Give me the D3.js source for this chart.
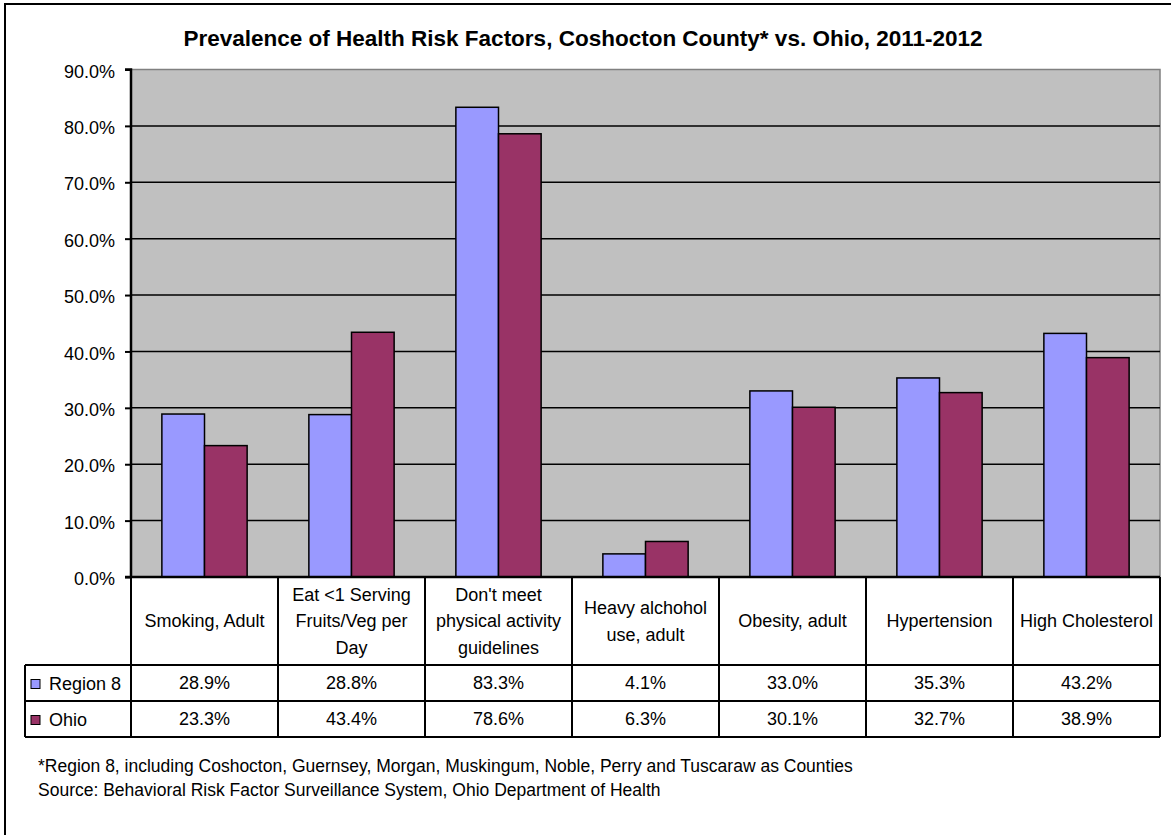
<!DOCTYPE html>
<html>
<head>
<meta charset="utf-8">
<script src="https://cdn.jsdelivr.net/npm/d3@7"></script>
<style>
  body { margin: 0; background: #fff; }
  svg { display: block; font-family: "Liberation Sans", Arial, sans-serif; }
</style>
</head>
<body>
<div id="chart"></div>
<script>
// Data
const categories = [
    ["Smoking, Adult"],
    ["Eat <1 Serving", "Fruits/Veg per", "Day"],
    ["Don't meet", "physical activity", "guidelines"],
    ["Heavy alchohol", "use, adult"],
    ["Obesity, adult"],
    ["Hypertension"],
    ["High Cholesterol"]
];
const seriesNames = ["Region 8", "Ohio"];
const region8 = [0.289, 0.288, 0.833, 0.041, 0.330, 0.353, 0.432];
const ohio = [0.233, 0.434, 0.786, 0.063, 0.301, 0.327, 0.389];
const yTicks = [0, 0.1, 0.2, 0.3, 0.4, 0.5, 0.6, 0.7, 0.8, 0.9];
const colors = ["#9999ff", "#993366"];
const footnotes = [
    "*Region 8, including Coshocton, Guernsey, Morgan, Muskingum, Noble, Perry and Tuscaraw as Counties",
    "Source: Behavioral Risk Factor Surveillance System, Ohio Department of Health"
];

function createChart() {
    const width = 1171, height = 835;
    const plot = { left: 131, right: 1160, top: 69.5, bottom: 577 };
    const headerH = 88, rowH = 36;
    const legendLeft = 25;
    const fs = "18px";

    const svg = d3.select("#chart").append("svg")
        .attr("width", width)
        .attr("height", height);

    // outer chart border (cropped on the right/bottom in the reference)
    svg.append("rect")
        .attr("x", 5).attr("y", 4)
        .attr("width", 1175).attr("height", 850)
        .attr("fill", "#fff")
        .attr("stroke", "#000")
        .attr("stroke-width", 2);

    const series = seriesNames.map((name, i) => ({
        name: name,
        values: i === 0 ? region8 : ohio
    }));
    const catIdx = d3.range(categories.length);

    const x = d3.scaleBand()
        .domain(catIdx)
        .range([plot.left, plot.right])
        .padding(0);
    const bw = x.bandwidth();
    const xSub = d3.scaleBand()
        .domain(seriesNames)
        .range([bw * 0.21, bw * 0.79])
        .padding(0);
    const y = d3.scaleLinear()
        .domain([0, 0.9])
        .range([plot.bottom, plot.top]);

    // plot background
    svg.append("rect")
        .attr("x", plot.left).attr("y", plot.top)
        .attr("width", plot.right - plot.left)
        .attr("height", plot.bottom - plot.top)
        .attr("fill", "#c0c0c0")
        .attr("stroke", "#808080")
        .attr("stroke-width", 1.5);

    // gridlines
    svg.append("g")
        .selectAll("line")
        .data(yTicks.filter(t => t > 0 && t < 0.9))
        .enter().append("line")
        .attr("x1", plot.left).attr("x2", plot.right)
        .attr("y1", d => y(d)).attr("y2", d => y(d))
        .attr("stroke", "#000")
        .attr("stroke-width", 1.5);

    // bars
    const groups = svg.append("g")
        .selectAll("g")
        .data(series)
        .enter().append("g")
        .attr("fill", (d, i) => colors[i]);

    groups.selectAll("rect")
        .data(d => d.values.map((v, i) => ({ name: d.name, value: v, idx: i })))
        .enter().append("rect")
        .attr("x", d => x(d.idx) + xSub(d.name))
        .attr("y", d => y(d.value))
        .attr("width", xSub.bandwidth())
        .attr("height", d => y(0) - y(d.value))
        .attr("stroke", "#000")
        .attr("stroke-width", 1.5);

    // y axis
    const yAxis = d3.axisLeft(y)
        .tickValues(yTicks)
        .tickFormat(d3.format(".1%"))
        .tickSize(6)
        .tickPadding(10);
    const ax = svg.append("g")
        .attr("transform", `translate(${plot.left},0)`)
        .call(yAxis);
    ax.select(".domain").attr("stroke-width", 2.5).attr("d", `M-6,${plot.top}H0V${plot.bottom}`);
    ax.selectAll(".tick line").attr("stroke-width", 2);
    ax.selectAll(".tick text")
        .attr("dy", "0.42em")
        .style("font-size", fs)
        .style("fill", "#000");

    // data table
    const table = svg.append("g").attr("stroke", "#000").attr("stroke-width", 2);
    const tTop = plot.bottom, hBot = plot.bottom + headerH, tBot = hBot + rowH * 2;

    // horizontal lines
    table.append("line").attr("x1", plot.left - 6).attr("x2", plot.right).attr("y1", tTop).attr("y2", tTop).attr("stroke-width", 2.5);
    [hBot, hBot + rowH, tBot].forEach(yy => {
        table.append("line").attr("x1", legendLeft).attr("x2", plot.right).attr("y1", yy).attr("y2", yy);
    });
    // vertical lines
    catIdx.concat([categories.length]).forEach(i => {
        const xx = i < categories.length ? x(i) : plot.right;
        table.append("line").attr("x1", xx).attr("x2", xx).attr("y1", tTop).attr("y2", tBot);
    });
    table.append("line").attr("x1", legendLeft).attr("x2", legendLeft).attr("y1", hBot).attr("y2", tBot);

    // header labels
    const lineH = 26.5;
    const headers = svg.append("g")
        .selectAll("text")
        .data(categories)
        .enter().append("text")
        .attr("text-anchor", "middle")
        .style("font-size", fs)
        .attr("x", (d, i) => x(i) + bw / 2)
        .attr("y", d => (tTop + hBot) / 2 - (d.length - 1) * lineH / 2);
    headers.selectAll("tspan")
        .data(d => d)
        .enter().append("tspan")
        .attr("x", function () { return d3.select(this.parentNode).attr("x"); })
        .attr("dy", (d, i) => i === 0 ? "0.35em" : lineH)
        .text(d => d);

    // data rows
    const fmt = d3.format(".1%");
    series.forEach((s, r) => {
        const cy = hBot + rowH * r + rowH / 2;
        svg.append("g")
            .selectAll("text")
            .data(s.values)
            .enter().append("text")
            .attr("text-anchor", "middle")
            .style("font-size", fs)
            .attr("x", (d, i) => x(i) + bw / 2)
            .attr("y", cy)
            .attr("dy", "0.35em")
            .text(d => fmt(d));

        // legend key + name
        svg.append("rect")
            .attr("x", 31).attr("y", cy - 3.5)
            .attr("width", 9).attr("height", 9)
            .attr("fill", colors[r])
            .attr("stroke", "#000")
            .attr("stroke-width", 1);
        svg.append("text")
            .attr("x", 49).attr("y", cy)
            .attr("dy", "0.4em")
            .style("font-size", fs)
            .text(s.name);
    });

    // title
    svg.append("text")
        .attr("x", 583).attr("y", 46)
        .attr("text-anchor", "middle")
        .style("font-size", "22.5px")
        .style("font-weight", "bold")
        .text("Prevalence of Health Risk Factors, Coshocton County* vs. Ohio, 2011-2012");

    // footnotes
    svg.append("g")
        .selectAll("text")
        .data(footnotes)
        .enter().append("text")
        .attr("x", 38)
        .attr("y", (d, i) => 772 + i * 24)
        .style("font-size", "17.5px")
        .text(d => d);
}

createChart();
</script>
</body>
</html>
